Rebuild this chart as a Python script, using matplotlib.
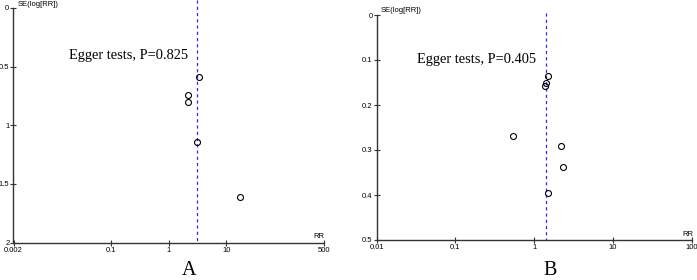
import matplotlib
matplotlib.use("Agg")
import matplotlib.pyplot as plt
from matplotlib.ticker import FixedLocator, FixedFormatter, NullLocator

# Panel A data
rr_a = [3.37, 2.2, 2.2, 3.07, 17.4]
se_a = [0.591, 0.742, 0.80, 1.14, 1.615]
pooled_a = 3.07
xticks_a = [0.002, 0.1, 1, 10, 500]
xticklabels_a = ["0.002", "0.1", "1", "10", "500"]
yticks_a = [0, 0.5, 1, 1.5, 2]
yticklabels_a = ["0", "0.5", "1", "1.5", "2"]
egger_a = "Egger tests, P=0.825"

# Panel B data
rr_b = [1.51, 1.42, 1.38, 0.537, 2.18, 2.31, 1.49]
se_b = [0.135, 0.150, 0.157, 0.269, 0.290, 0.337, 0.396]
pooled_b = 1.42
xticks_b = [0.01, 0.1, 1, 10, 100]
xticklabels_b = ["0.01", "0.1", "1", "10", "100"]
yticks_b = [0, 0.1, 0.2, 0.3, 0.4, 0.5]
yticklabels_b = ["0", "0.1", "0.2", "0.3", "0.4", "0.5"]
egger_b = "Egger tests, P=0.405"

W, H = 697, 280
fig = plt.figure(figsize=(W / 100, H / 100), dpi=100)

def px_axes(x0, x1, ytop, ybot):
    return fig.add_axes([x0 / W, (H - ybot) / H, (x1 - x0) / W, (ybot - ytop) / H])

sans = "Liberation Sans"
serif = "Liberation Serif"
spine_col = "#333333"

def setup(ax, rr, se, pooled, xt, xtl, yt, ytl, ymax, dash_top):
    ax.set_xscale("log")
    ax.set_xlim(xt[0], xt[-1])
    ax.set_ylim(ymax, 0)
    for s in ["top", "right"]:
        ax.spines[s].set_visible(False)
    for s in ["left", "bottom"]:
        ax.spines[s].set_color(spine_col)
        ax.spines[s].set_linewidth(1.0)
    ax.xaxis.set_major_locator(FixedLocator(xt))
    ax.xaxis.set_major_formatter(FixedFormatter(xtl))
    ax.xaxis.set_minor_locator(NullLocator())
    ax.set_yticks(yt)
    ax.set_yticklabels(ytl)
    ax.tick_params(axis="both", direction="inout", length=5, width=0.8,
                   color=spine_col, labelsize=5.5, pad=0.5)
    for lab in ax.get_xticklabels() + ax.get_yticklabels():
        lab.set_fontfamily(sans)
    ax.plot([pooled, pooled], [dash_top, ymax], color="#2a2ae0", lw=0.9,
            ls=(0, (2.5, 2.5)), clip_on=False, zorder=1)
    ax.plot(rr, se, ls="none", marker="o", markersize=4.3, markerfacecolor="none",
            markeredgecolor="black", markeredgewidth=0.8, zorder=3, clip_on=False)
    ax.patch.set_visible(False)

axA = px_axes(13.5, 323.9, 8, 242.5)
setup(axA, rr_a, se_a, pooled_a, xticks_a, xticklabels_a, yticks_a, yticklabels_a, 2, -0.07)
axB = px_axes(376.7, 691.7, 15, 240)
setup(axB, rr_b, se_b, pooled_b, xticks_b, xticklabels_b, yticks_b, yticklabels_b, 0.5, -0.005)

# axis name labels
fig.text(18 / W, 1 - 4 / H, "SE(log[RR])", fontsize=5.5, family=sans, va="center", ha="left")
fig.text(381 / W, 1 - 11 / H, "SE(log[RR])", fontsize=5.5, family=sans, va="center", ha="left")
fig.text(319 / W, 1 - 236.5 / H, "RR", fontsize=5.5, family=sans, va="center", ha="center")
fig.text(688 / W, 1 - 234.5 / H, "RR", fontsize=5.5, family=sans, va="center", ha="center")

# Egger annotations
fig.text(128.5 / W, 1 - 56 / H, egger_a, fontsize=10.4, family=serif, va="center", ha="center")
fig.text(476.7 / W, 1 - 60 / H, egger_b, fontsize=10.4, family=serif, va="center", ha="center")

# Panel letters
fig.text(189 / W, 1 - 275 / H, "A", fontsize=14.5, family=serif, va="baseline", ha="center")
fig.text(550.5 / W, 1 - 275 / H, "B", fontsize=14.5, family=serif, va="baseline", ha="center")

fig.savefig("out.png", dpi=100)
